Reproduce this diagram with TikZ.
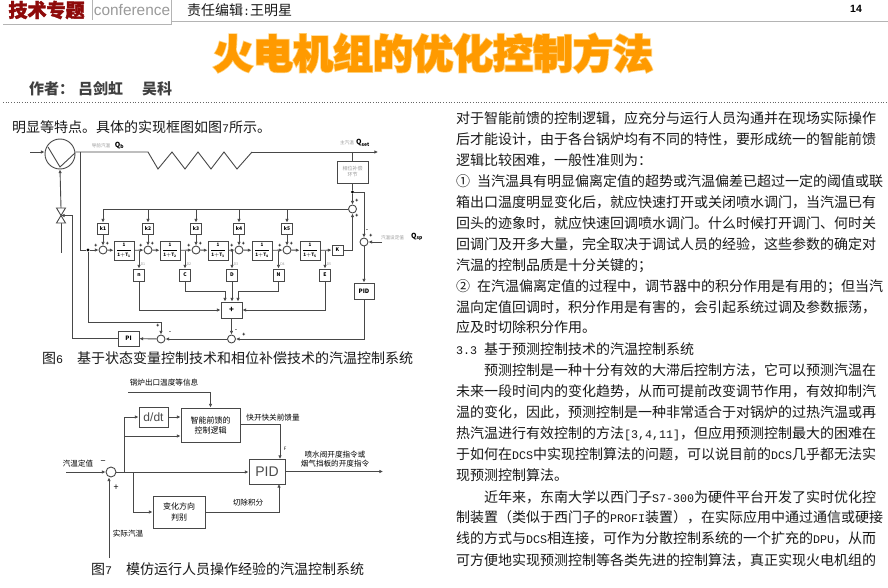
\documentclass[tikz,border=0pt]{standalone}
\usepackage{fontspec}
\setmainfont{Noto Sans CJK SC}
\setsansfont{Liberation Sans}
\setmonofont{Liberation Mono}
\newfontfamily\heavycjk[BoldFeatures={FakeBold=2}]{Noto Sans CJK SC}
\newfontfamily\glowcjk[BoldFeatures={FakeBold=6}]{Noto Sans CJK SC}
\usetikzlibrary{arrows.meta, positioning, calc}
\definecolor{wiregray}{HTML}{484848}
\definecolor{rulegray}{HTML}{B4B4B4}
\definecolor{paletext}{HTML}{9A9A9A}
\definecolor{headred}{HTML}{8E0A0A}
\definecolor{titleorange}{HTML}{FF9A00}
\definecolor{titleglow}{HTML}{FFD078}
\newcommand{\lat}[1]{{\fontsize{11.67}{14}\selectfont\ttfamily #1}}
\newcommand{\lag}[1]{{\fontsize{4.6}{5}\selectfont\bfseries$\displaystyle\frac{\mathbf{1}}{\mathbf{1{+}T_{#1}}}$}}
\tikzset{
  wire/.style={draw=wiregray, line width=0.9pt},
  feed/.style={wire, -{Latex[length=3.6pt,width=3.4pt]}},
  sumc/.style={circle, draw=wiregray, fill=white, line width=0.9pt, minimum size=8pt, inner sep=0pt},
  dotn/.style={circle, fill=black, minimum size=3.4pt, inner sep=0pt},
  block/.style={draw=wiregray, fill=white, line width=0.9pt, inner sep=0pt, align=center},
  lagbox/.style={block, minimum width=20pt, minimum height=19pt},
  gainbox/.style={block, minimum width=11pt, minimum height=11pt, font=\fontsize{5}{5}\selectfont\bfseries},
  tiny/.style={inner sep=0pt, font=\fontsize{5}{5}\selectfont\bfseries},
  pale/.style={inner sep=0pt, text=paletext, font=\fontsize{4.6}{5}\selectfont},
  note/.style={inner sep=0pt, align=center, text=black, font=\fontsize{7.6}{8.6}\selectfont},
  body/.style={anchor=west, inner sep=0pt, text height=12.5pt, text depth=1.5pt, text=black!90, font=\fontsize{14}{14}\selectfont},
}
\begin{document}
\begin{tikzpicture}[x=1pt, y=-1pt]
\useasboundingbox (0,0) rectangle (888,588);
\fill[white] (0,0) rectangle (888,588);

% page head
\node[inner sep=0pt, text=headred, font=\fontsize{19}{19}\selectfont\heavycjk\bfseries] (headtag) at (46.5,10) {技术专题};
\node[inner sep=0pt, text=paletext, font=\fontsize{15.4}{16}\selectfont\sffamily] (headconf) at (132,10) {conference};
\node[body] (headeditor) at (187,10) {责任编辑\lat{:}王明星};
\node[inner sep=0pt, font=\fontsize{10.5}{11}\selectfont\sffamily\bfseries] (headpage) at (856,9) {14};
\draw[rulegray, line width=0.9pt] (92,0) -- (92,20);
\draw[rulegray, line width=1pt] (3,25) -- (171.5,25) -- (171.5,0);
\draw[rulegray, line width=1pt] (171.5,22) -- (888,22);
\node[inner sep=0pt, text=titleglow, font=\fontsize{40}{40}\selectfont\glowcjk\bfseries] (titleback) at (433,53) {火电机组的优化控制方法};
\node[inner sep=0pt, text=titleorange, font=\fontsize{40}{40}\selectfont\heavycjk\bfseries] (titlefront) at (433,53) {火电机组的优化控制方法};
\node[body, text=black!75, font=\fontsize{15}{15}\selectfont\bfseries] (byline) at (29,89) {作者：\hspace{4pt}吕剑虹\hspace{19pt}吴科};
\draw[black!60, line width=0.7pt, dotted] (3,102) -- (888,102);
\node[body] (leadline) at (12,127) {明显等特点。具体的实现框图如图\lat{7}所示。};

% right column
\foreach \y/\t [count=\i] in {
  118/{对于智能前馈的控制逻辑，应充分与运行人员沟通并在现场实际操作},
  139/{后才能设计，由于各台锅炉均有不同的特性，要形成统一的智能前馈},
  160/{逻辑比较困难，一般性准则为：},
  181/{①\lat{\ }当汽温具有明显偏离定值的超势或汽温偏差已超过一定的阈值或联},
  202/{箱出口温度明显变化后，就应快速打开或关闭喷水调门，当汽温已有},
  223/{回头的迹象时，就应快速回调喷水调门。什么时候打开调门、何时关},
  244/{回调门及开多大量，完全取决于调试人员的经验，这些参数的确定对},
  265/{汽温的控制品质是十分关键的；},
  286/{②\lat{\ }在汽温偏离定值的过程中，调节器中的积分作用是有用的；但当汽},
  307/{温向定值回调时，积分作用是有害的，会引起系统过调及参数振荡，},
  327/{应及时切除积分作用。},
  349/{\lat{3.3\ }基于预测控制技术的汽温控制系统},
  370/{\hspace*{28pt}预测控制是一种十分有效的大滞后控制方法，它可以预测汽温在},
  391/{未来一段时间内的变化趋势，从而可提前改变调节作用，有效抑制汽},
  412/{温的变化，因此，预测控制是一种非常适合于对锅炉的过热汽温或再},
  433/{热汽温进行有效控制的方法\lat{[3,4,11]}，但应用预测控制最大的困难在},
  454/{于如何在\lat{DCS}中实现控制算法的问题，可以说目前的\lat{DCS}几乎都无法实},
  475/{现预测控制算法。},
  497/{\hspace*{28pt}近年来，东南大学以西门子\lat{S7-300}为硬件平台开发了实时优化控},
  517/{制装置（类似于西门子的\lat{PROFI}装置），在实际应用中通过通信或硬接},
  538/{线的方式与\lat{DCS}相连接，可作为分散控制系统的一个扩充的\lat{DPU}，从而},
  560/{可方便地实现预测控制等各类先进的控制算法，真正实现火电机组的}}
  \node[body] (line\i) at (456,\y) {\t};

% fig 6 main path
\node[sumc, minimum size=30pt] (pump) at (60,154) {};
\draw[wire] (48,147) -- (60,167) -- (75,153);
\coordinate (pumpin) at (30,152);
\coordinate (zigstart) at (148,152);
\coordinate (zigend) at (252,152);
\coordinate (mainout) at (378,152);
\draw[feed] (pumpin) -- (pumpin -| pump.west);
\draw[wire] (pump.east |- zigstart) -- (zigstart) -- (158,169) -- (172,152) -- (185,169) -- (198,152)
  -- (211,169) -- (224,152) -- (237,169) -- (zigend);
\draw[feed] (zigend) -- (mainout);
\node[pale] (labbefore) at (101,146) {导前汽温};
\node[tiny, font=\fontsize{7}{7}\selectfont\bfseries] (qbname) at (119.5,145.5) {Q$_{\mathbf b}$};
\node[pale] (labmain) at (347,143) {主汽温};
\node[tiny, font=\fontsize{7}{7}\selectfont\bfseries] (qset) at (363,143) {Q$_{\mathbf{set}}$};

% fig 6 valve
\coordinate (valve) at (61,215.5);
\coordinate (valvetop) at (61,208);
\coordinate (pipeend) at (61,253);
\coordinate (pibend) at (72,215.5);
\draw[feed] (valvetop) -- (pump.south);
\draw[wire] (valve) -- (pipeend);
\draw[wire, fill=white] (56.5,208) -- (65.5,208) -- (56.5,223) -- (65.5,223) -- cycle;

% fig 6 state row
\foreach \i/\x in {1/103, 2/148, 3/196, 4/239, 5/287} {
  \node[sumc] (s\i) at (\x,250) {};
  \node[gainbox] (k\i) at (\x,228.5) {k\i};
  \node[tiny] (pa\i) at ($(s\i)+(-7,-4.5)$) {+};
  \node[tiny] (pb\i) at ($(s\i)+(4.5,-6.5)$) {+};
}
\foreach \i/\x in {1/124, 2/170, 3/218, 4/262, 5/310}
  \node[lagbox] (b\i) at (\x,250.5) {\lag{\i}};
\foreach \i/\x/\t in {1/139/n, 2/185/C, 3/232/D, 4/278.5/N, 5/325/E} {
  \node[gainbox, minimum height=12pt] (t\i) at (\x,275) {\t};
  \node[pale, font=\fontsize{3.6}{4}\selectfont] (d\i) at (\x+4,264.5) {D\i};
  \draw[feed] (t\i |- b\i) -- (t\i);
}
\node[gainbox, minimum height=10pt] (kb) at (337.5,250) {K};
\foreach \a/\b in {s1/b1, b1/s2, s2/b2, b2/s3, s3/b3, b3/s4, s4/b4, b4/s5, s5/b5, b5/kb}
  \draw[feed] (\a) -- (\b);
\foreach \i in {1,...,5}
  \draw[feed] (k\i) -- (s\i);

% fig 6 top loop
\node[sumc] (sumtop) at (352.5,209) {};
\node[sumc] (sumsp) at (364,242) {};
\node[block, minimum width=31pt, minimum height=22pt, text=paletext, font=\fontsize{5}{6}\selectfont] (phase) at (352.5,172) {相位补偿\\环节};
\node[dotn] (phasedot) at (352.5,192) {};
\coordinate (spin) at (382,242);
\draw[wire] (phase |- mainout) -- (phase);
\draw[wire] (phase) -- (phasedot);
\draw[feed] (phasedot) -- (sumtop);
\draw[feed] (phasedot) -| (sumsp);
\draw[feed] (kb) -| (sumtop);
\draw[feed] (spin) -- (sumsp);
\draw[wire] (sumtop) -- (k1 |- sumtop);
\foreach \i in {1,...,5}
  \draw[feed] (k\i |- sumtop) -- (k\i);
\node[pale] (labsp) at (392.5,238) {汽温设定值};
\node[tiny, font=\fontsize{7}{7}\selectfont\bfseries] (qsp) at (417,237) {Q$_{\mathbf{sp}}$};

% fig 6 adder and lower loop
\node[block, minimum width=21pt, minimum height=16pt, font=\fontsize{8}{8}\selectfont\bfseries] (adder) at (231.5,310) {+};
\node[block, minimum width=20pt, minimum height=16pt, font=\fontsize{6}{6}\selectfont\bfseries] (pid) at (364,291) {PID};
\node[block, minimum width=21pt, minimum height=15pt, font=\fontsize{6}{6}\selectfont\bfseries] (pi) at (128.5,338.5) {PI};
\node[sumc] (sumb) at (231.5,339) {};
\node[sumc] (sumpi) at (161,339) {};
\node[dotn] (sdot) at (88,250) {};
\coordinate (tee) at (80,152);
\coordinate (turn) at (80,250);
\coordinate (pifeed) at (161,322);
\coordinate (tc) at (225,291);
\coordinate (tn) at (238,291);
\draw[feed] (t1) |- (adder.west);
\draw[feed] (t2) |- (tc) -- (tc |- adder.north);
\draw[feed] (t3) -- (t3 |- adder.north);
\draw[feed] (t4) |- (tn) -- (tn |- adder.north);
\draw[feed] (t5) |- (adder.east);
\draw[feed] (adder) -- (sumb);
\draw[feed] (sumsp) -- (pid);
\draw[feed] (pid) |- (sumb);
\draw[feed] (sumb) -- (sumpi);
\draw[feed] (sumpi) -- (pi);
\draw[feed] (pi) -| (pibend) -- (valve);
\draw[wire] (tee) -- (turn) -- (sdot);
\draw[feed] (sdot) -- (s1);
\draw[feed] (sdot) |- (pifeed) -- (sumpi);
\foreach \x/\y/\t [count=\i] in {357/201/+, 357/216/+, 367/231/-, 371/236/+, 236/331/-, 244/335/+, 158/326/+, 170/333/-}
  \node[tiny] (sg\i) at (\x,\y) {\t};
\node[body] (caption6) at (42,358) {图\lat{6}\hspace{14pt}基于状态变量控制技术和相位补偿技术的汽温控制系统};

% fig 7
\node[sumc, minimum size=10pt] (err) at (111,472) {};
\node[block, minimum width=29pt, minimum height=20pt, text=black!70, font=\fontsize{12}{12}\selectfont\sffamily] (dt) at (153.5,417) {d/dt};
\node[block, minimum width=59pt, minimum height=34pt, font=\fontsize{8}{10}\selectfont] (logic) at (210.5,425) {智能前馈的\\控制逻辑};
\node[block, minimum width=52pt, minimum height=32pt, font=\fontsize{8}{11}\selectfont] (trend) at (179,512) {变化方向\\判别};
\node[block, minimum width=36pt, minimum height=25pt, text=black!70, font=\fontsize{14}{14}\selectfont\sffamily] (pidb) at (267,471.5) {PID};
\coordinate (setin) at (66,472);
\coordinate (actin) at (109,558);
\coordinate (boilerl) at (128,392);
\coordinate (boilerr) at (logic.north |- boilerl);
\coordinate (branchup) at (124,472);
\coordinate (branchmid) at (124,436);
\coordinate (branchdn) at (133,472);
\coordinate (logicout) at (240,424);
\coordinate (pidtop) at (280,459);
\coordinate (pidlow) at (279,484);
\coordinate (outb) at (383,471.5);
\draw[feed] (setin) -- (err);
\draw[feed] (actin) -- (actin |- err.south);
\draw[feed] (err) -- (pidb.west |- err);
\draw[feed] (branchup) |- (dt);
\draw[feed] (branchmid) -- (branchmid -| logic.west);
\draw[feed] (dt) -- (logic.west |- dt);
\draw[feed] (boilerl) -- (boilerr) -- (logic.north);
\draw[feed] (branchdn) |- (trend.west);
\draw[feed] (trend.east) -| (pidlow);
\draw[feed] (logicout) -| (pidtop);
\draw[feed] (pidb.east |- outb) -- (outb);
\node[note] (labboiler) at (164,383) {锅炉出口温度等信息};
\node[note] (labset) at (78,464) {汽温定值};
\node[note, font=\fontsize{9}{9}\selectfont] (labminus) at (103,463) {−};
\node[note, font=\fontsize{9}{9}\selectfont] (labplus) at (116,488) {+};
\node[note] (labact) at (128,534) {实际汽温};
\node[note] (labfast) at (273,418) {快开快关前馈量};
\node[note, font=\fontsize{4.5}{5}\selectfont] (labf) at (285,449) {F};
\node[note] (labout) at (335,459) {喷水阀开度指令或\\烟气挡板的开度指令};
\node[note] (labcut) at (248,503) {切除积分};
\node[body] (caption7) at (91,569) {图\lat{7}\hspace{14pt}模仿运行人员操作经验的汽温控制系统};
\end{tikzpicture}
\end{document}
